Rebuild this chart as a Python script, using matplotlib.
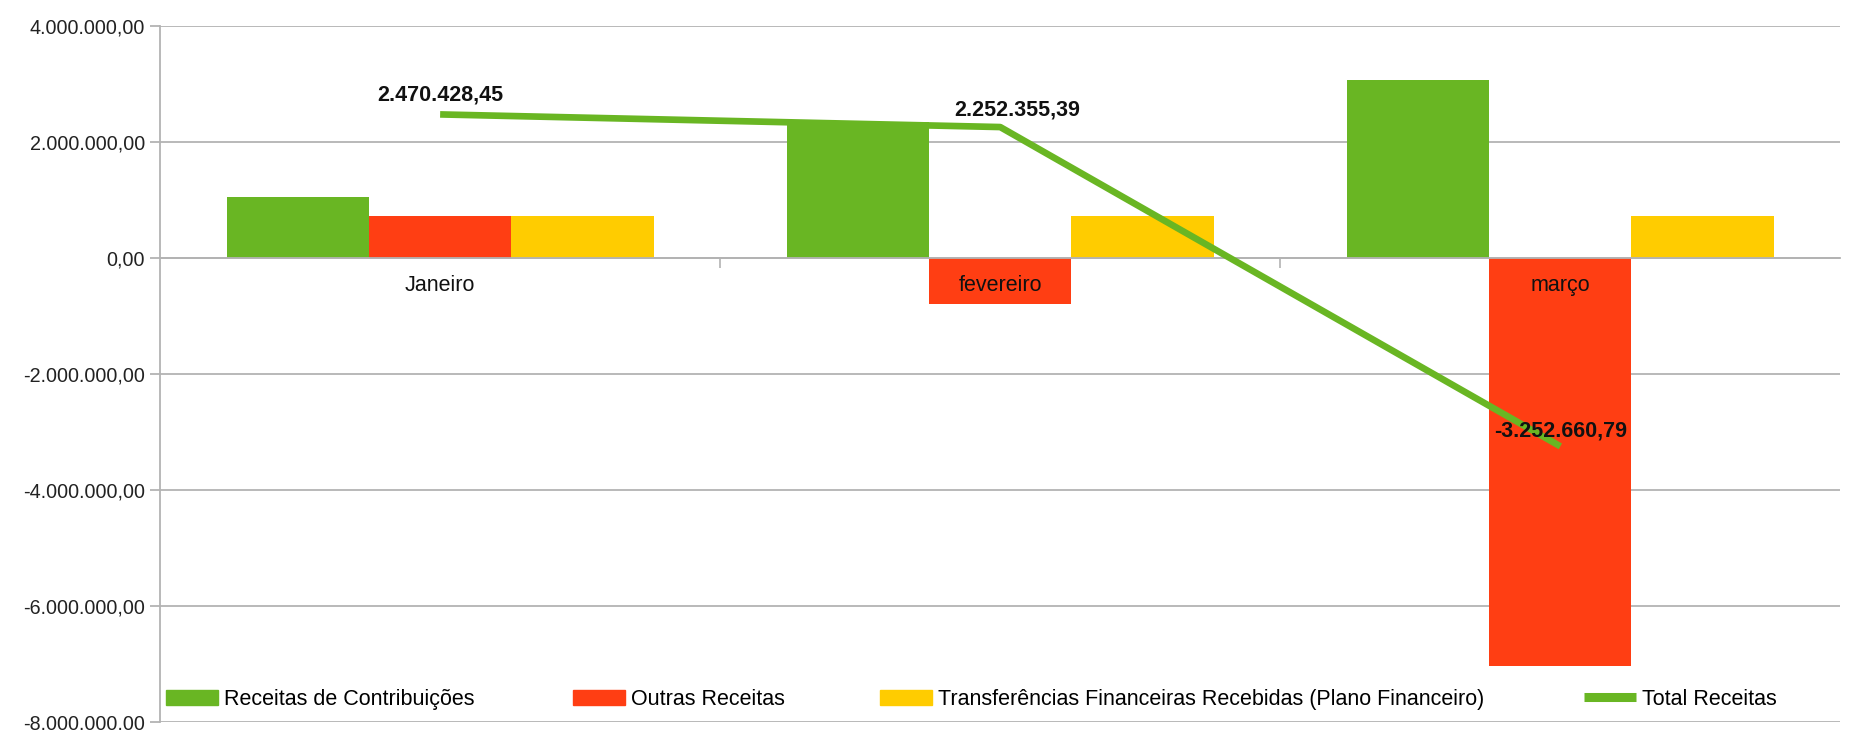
import matplotlib
matplotlib.use('Agg')
import matplotlib.pyplot as plt
from matplotlib.legend import Legend
from matplotlib.lines import Line2D
from matplotlib.patches import Patch
from matplotlib.ticker import FuncFormatter, FixedLocator
import numpy as np

plt.rcParams['font.family'] = ['Liberation Sans', 'DejaVu Sans']

# ---- data ----
months = ['Janeiro', 'fevereiro', 'março']
contribuicoes = [1040000, 2340000, 3070000]
outras = [720000, -800000, -7040000]
transferencias = [710428.45, 712355.39, 717339.21]
total = [2470428.45, 2252355.39, -3252660.79]
series_names = ['Receitas de Contribuições', 'Outras Receitas',
                'Transferências Financeiras Recebidas (Plano Financeiro)', 'Total Receitas']

c_green = '#69b623'
c_red = '#ff3e13'
c_yellow = '#ffcc00'
c_grid = '#b3b3b3'
FS = 15.5


def br(v, pos=None):
    s = f'{v:,.2f}'
    return s.replace(',', 'X').replace('.', ',').replace('X', '.')


fig = plt.figure(figsize=(18.59, 7.30), dpi=100)
ax = fig.add_axes([0.0861, 0.0114, 0.9039, 0.9534])

x = np.arange(len(months))
w = 0.254
ax.bar(x - w, contribuicoes, w, color=c_green, zorder=2)
ax.bar(x, outras, w, color=c_red, zorder=2)
ax.bar(x + w, transferencias, w, color=c_yellow, zorder=2)
ax.plot(x, total, color=c_green, lw=4.8, zorder=3, solid_capstyle='butt')

ax.set_xlim(-0.5, 2.5)
ax.set_ylim(-8000000, 4000000)
ax.set_yticks(np.arange(-8000000, 4000001, 2000000))
ax.yaxis.set_major_formatter(FuncFormatter(br))
ax.set_axisbelow(True)
ax.grid(axis='y', color=c_grid, lw=1.3)

# category boundary ticks on the zero line, labels drawn as text above bars
ax.spines['bottom'].set_position(('data', 0))
ax.xaxis.set_major_locator(FixedLocator([0.5, 1.5]))
ax.set_xticklabels([])
ax.tick_params(axis='x', direction='out', length=7, width=1.2, color=c_grid)
ax.tick_params(axis='y', direction='out', length=7, width=1.3, color=c_grid,
               labelsize=14.2, pad=4, labelcolor='#222222')
for sp in ['top', 'right']:
    ax.spines[sp].set_visible(False)
for sp in ['left', 'bottom']:
    ax.spines[sp].set_color(c_grid)
    ax.spines[sp].set_linewidth(1.3)

for i, m in enumerate(months):
    ax.annotate(m, (x[i], 0), xytext=(0, -20), textcoords='offset points',
                ha='center', va='center', fontsize=FS, color='#111111', zorder=5)

# data labels for total
label_off = [(0, 14), (12, 12), (0, 11)]
for i, v in enumerate(total):
    ax.annotate(br(v), (x[i], v), xytext=label_off[i], textcoords='offset points',
                ha='center', va='center', fontsize=FS, fontweight='bold',
                color='#111111', zorder=6)

# legend, spread across the bottom (one small legend per entry)
handles = [Patch(color=c_green), Patch(color=c_red), Patch(color=c_yellow),
           Line2D([], [], color=c_green, lw=6.5, solid_capstyle='butt')]
leg_x = [0.0036, 0.2458, 0.4286, 0.8476]
for h, name, lx in zip(handles, series_names, leg_x):
    leg = Legend(ax, [h], [name], loc='center left', bbox_to_anchor=(lx, 0.032),
                 frameon=False, fontsize=FS, borderpad=0, borderaxespad=0,
                 handlelength=2.4, handleheight=0.7, handletextpad=0.3)
    ax.add_artist(leg)

fig.savefig('out.png', dpi=100, facecolor='white')
